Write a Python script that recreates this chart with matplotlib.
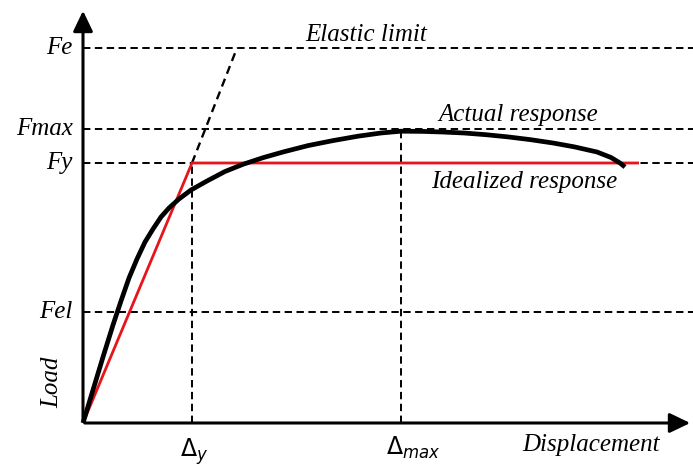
import matplotlib.pyplot as plt
import numpy as np

# schematic values (arbitrary units)
d_y = 109
d_max = 318
d_e = 154
F_e = 375
F_max = 294
F_y = 260
F_el = 111
d_end_ideal = 556

# actual response curve
curve_x = [0, 10, 20, 30, 38, 46, 54, 62, 70, 78, 86, 96, 108, 124, 142, 160, 180, 200,
           225, 250, 275, 298, 318, 340, 359, 381, 403, 425, 447, 470, 491, 514, 528,
           537, 542]
curve_y = [0, 33, 66, 98, 122, 145, 164, 181, 194, 206, 215, 224, 233, 242, 251.5, 258.7,
           265.3, 271, 277.4, 282.4, 286.8, 290, 291.8, 291.6, 291, 290, 288.3, 286.1,
           283.4, 280, 276.2, 271, 265.5, 260, 256]

# idealized (bilinear) response
ideal_x = [0, d_y, d_end_ideal]
ideal_y = [0, F_y, F_y]

fig = plt.figure(figsize=(6.93, 4.66), dpi=100)
ax = fig.add_axes([0, 0, 1, 1])
ax.set_xlim(-83, 610)
ax.set_ylim(-43, 423)
ax.axis('off')

serif = {'family': 'Liberation Serif', 'style': 'italic', 'size': 18}
dash = dict(color='black', lw=1.4, ls=(0, (3.8, 2.3)))

# axes with arrow heads
head = '-|>,head_length=1.25,head_width=0.6'
ax.annotate('', xy=(610, 0), xytext=(-1, 0),
            arrowprops=dict(arrowstyle=head, lw=2.2, color='black'))
ax.annotate('', xy=(0, 415), xytext=(0, -1),
            arrowprops=dict(arrowstyle=head, lw=2.2, color='black'))

# reference dashed lines
for f in [F_e, F_max, F_y, F_el]:
    ax.plot([0, 610], [f, f], **dash)
ax.plot([d_y, d_y], [0, F_y], **dash)
ax.plot([d_max, d_max], [0, F_max], **dash)
# elastic limit extension
ax.plot([d_y, d_e], [F_y, F_e], color='black', lw=1.7, ls=(0, (3.5, 2.3)))

ax.plot(ideal_x, ideal_y, color='#e8141b', lw=2.0, solid_capstyle='butt')
ax.plot(curve_x, curve_y, color='black', lw=3.4, solid_capstyle='butt',
        solid_joinstyle='round')

# labels
for lab, f in [('Fe', F_e), ('Fmax', F_max), ('Fy', F_y), ('Fel', F_el)]:
    ax.text(-10, f, lab, ha='right', va='center', fontdict=serif)
ax.text(-31, 41, 'Load', rotation=90, ha='center', va='center', fontdict=serif)
ax.text(508, -22, 'Displacement', ha='center', va='center', fontdict=serif)
ax.text(283, 388, 'Elastic limit', ha='center', va='center', fontdict=serif)
ax.text(435, 308, 'Actual response', ha='center', va='center', fontdict=serif)
ax.text(441, 241, 'Idealized response', ha='center', va='center', fontdict=serif)
ax.text(d_y + 2, -29, r'$\Delta_y$', ha='center', va='center', fontsize=17)
ax.text(d_max + 12, -25, r'$\Delta_{max}$', ha='center', va='center', fontsize=17)

plt.savefig('out.png', dpi=100)
